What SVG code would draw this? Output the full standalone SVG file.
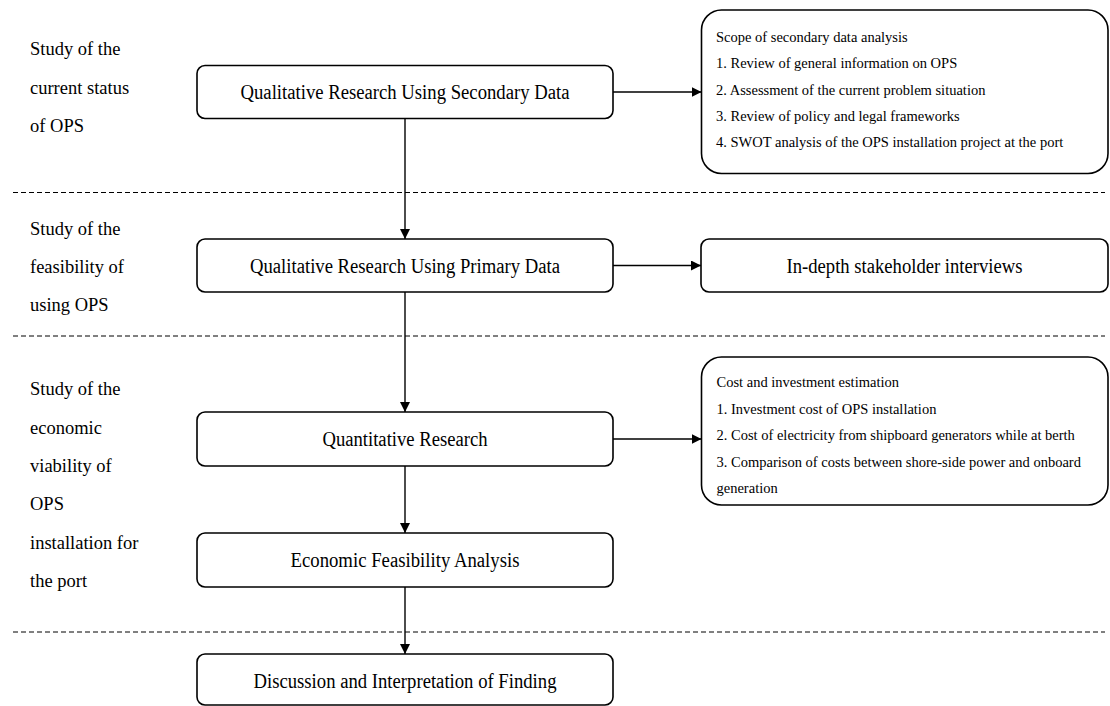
<svg xmlns="http://www.w3.org/2000/svg" width="1110" height="706" viewBox="0 0 1110 706">
<style>
.box{fill:#fff;stroke:#000;stroke-width:1.6}
.lbl{font-family:"Liberation Serif","Times New Roman",serif;font-size:18.5px;fill:#000}
.bt{font-family:"Liberation Serif","Times New Roman",serif;font-size:20px;fill:#000;text-anchor:middle}
.st{font-family:"Liberation Serif","Times New Roman",serif;font-size:14.5px;fill:#000}
.dash{stroke:#000;stroke-width:1;stroke-dasharray:5 3;fill:none}
.conn{stroke:#000;stroke-width:1.4;fill:none;marker-end:url(#ah)}
</style>
<defs>
<marker id="ah" markerUnits="userSpaceOnUse" markerWidth="10" markerHeight="10" viewBox="0 0 10 10" refX="10" refY="5" orient="auto">
<path d="M0,0 L10,5 L0,10 Z" fill="#000"/>
</marker>
</defs>
<g id="separators">
<line class="dash" x1="13" y1="192.5" x2="1105" y2="192.5"/>
<line class="dash" x1="13" y1="336" x2="1105" y2="336"/>
<line class="dash" x1="13" y1="632" x2="1105" y2="632"/>
</g>
<g id="labels">
<text class="lbl" x="30" y="55">Study of the</text>
<text class="lbl" x="30" y="94">current status</text>
<text class="lbl" x="30" y="132">of OPS</text>
<text class="lbl" x="30" y="235">Study of the</text>
<text class="lbl" x="30" y="273">feasibility of</text>
<text class="lbl" x="30" y="311">using OPS</text>
<text class="lbl" x="30" y="395">Study of the</text>
<text class="lbl" x="30" y="434">economic</text>
<text class="lbl" x="30" y="472">viability of</text>
<text class="lbl" x="30" y="510">OPS</text>
<text class="lbl" x="30" y="549">installation for</text>
<text class="lbl" x="30" y="587">the port</text>
</g>
<g id="connectors">
<line class="conn" x1="405" y1="118.5" x2="405" y2="239"/>
<line class="conn" x1="405" y1="292" x2="405" y2="412"/>
<line class="conn" x1="405" y1="466" x2="405" y2="533"/>
<line class="conn" x1="405" y1="587" x2="405" y2="654"/>
<line class="conn" x1="613" y1="92" x2="701.5" y2="92"/>
<line class="conn" x1="613" y1="265.5" x2="701" y2="265.5"/>
<line class="conn" x1="613" y1="439" x2="701.5" y2="439"/>
</g>
<g id="n-secondary">
<rect class="box" x="197" y="65.5" width="416" height="53" rx="8"/>
<text class="bt" x="405" y="99" textLength="329" lengthAdjust="spacingAndGlyphs">Qualitative Research Using Secondary Data</text>
</g>
<g id="n-scope">
<rect class="box" x="701.5" y="10" width="406.5" height="163.5" rx="20"/>
<text class="st" x="716" y="41.5">Scope of secondary data analysis</text>
<text class="st" x="716" y="68">1. Review of general information on OPS</text>
<text class="st" x="716" y="94.5">2. Assessment of the current problem situation</text>
<text class="st" x="716" y="121">3. Review of policy and legal frameworks</text>
<text class="st" x="716" y="147">4. SWOT analysis of the OPS installation project at the port</text>
</g>
<g id="n-primary">
<rect class="box" x="197" y="239" width="416" height="53" rx="8"/>
<text class="bt" x="405" y="272.5" textLength="310" lengthAdjust="spacingAndGlyphs">Qualitative Research Using Primary Data</text>
</g>
<g id="n-interviews">
<rect class="box" x="701" y="239" width="407" height="53" rx="8"/>
<text class="bt" x="904.5" y="273" textLength="236" lengthAdjust="spacingAndGlyphs">In-depth stakeholder interviews</text>
</g>
<g id="n-quantitative">
<rect class="box" x="197" y="412" width="416" height="54" rx="8"/>
<text class="bt" x="405" y="446" textLength="165" lengthAdjust="spacingAndGlyphs">Quantitative Research</text>
</g>
<g id="n-cost">
<rect class="box" x="701.5" y="357" width="406.5" height="148" rx="20"/>
<text class="st" x="716.5" y="387">Cost and investment estimation</text>
<text class="st" x="716.5" y="413.5">1. Investment cost of OPS installation</text>
<text class="st" x="716.5" y="440">2. Cost of electricity from shipboard generators while at berth</text>
<text class="st" x="716.5" y="466.5">3. Comparison of costs between shore-side power and onboard</text>
<text class="st" x="716.5" y="493">generation</text>
</g>
<g id="n-economic">
<rect class="box" x="197" y="533" width="416" height="54" rx="8"/>
<text class="bt" x="405" y="567" textLength="229" lengthAdjust="spacingAndGlyphs">Economic Feasibility Analysis</text>
</g>
<g id="n-discussion">
<rect class="box" x="197" y="654" width="416" height="51" rx="8"/>
<text class="bt" x="405" y="687.5" textLength="303" lengthAdjust="spacingAndGlyphs">Discussion and Interpretation of Finding</text>
</g>
</svg>
